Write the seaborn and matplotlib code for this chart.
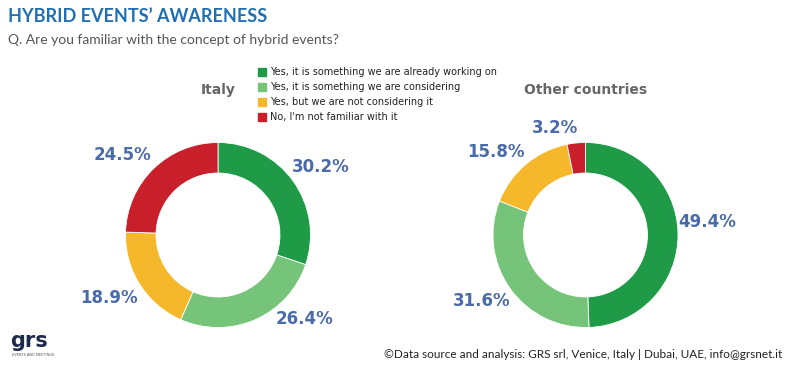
import numpy as np
import matplotlib
matplotlib.use("Agg")
import matplotlib.pyplot as plt
import seaborn as sns

sns.set_theme(style="white")
plt.rcParams['font.family'] = ['DejaVu Sans']

categories = [
    "Yes, it is something we are already working on",
    "Yes, it is something we are considering",
    "Yes, but we are not considering it",
    "No, I'm not familiar with it",
]
italy_values = [30.2, 26.4, 18.9, 24.5]
other_values = [49.4, 31.6, 15.8, 3.2]
panel_titles = ["Italy", "Other countries"]
colors = sns.color_palette(["#1f9a46", "#76c479", "#f5b82a", "#c81f2a"])
# small per-label angle nudges (degrees) and radial distances
italy_nudge = [-2, 22, -2, 6]
italy_dist = [1.33, 1.30, 1.36, 1.35]
other_nudge = [5, -3, 7, 10]
other_dist = [1.32, 1.33, 1.32, 1.20]

W, H = 796, 368
fig = plt.figure(figsize=(W / 100, H / 100), dpi=100)
fig.patch.set_facecolor("white")

R = 92.5
lim = 1.0


def add_donut(cx, cy, values, nudges, dists, title):
    ax = fig.add_axes([(cx - R) / W, (H - cy - R) / H, 2 * R / W, 2 * R / H])
    wedges, _ = ax.pie(values, colors=colors, startangle=90, counterclock=False,
                       radius=1.0, wedgeprops=dict(width=0.33, edgecolor="white", linewidth=0.6))
    ax.set_xlim(-lim, lim)
    ax.set_ylim(-lim, lim)
    ax.set_aspect("equal")
    ax.axis("off")
    for w, v, nd, d in zip(wedges, values, nudges, dists):
        ang = np.deg2rad((w.theta1 + w.theta2) / 2 + nd)
        ax.text(d * np.cos(ang), d * np.sin(ang), f"{v:.1f}%", ha="center", va="center",
                fontsize=12, fontweight="bold", color="#4a6aa8", clip_on=False)
    fig.text(cx / W, 1 - 90 / H, title, ha="center", va="center", fontsize=10,
             fontweight="bold", color="#666666")
    return ax


add_donut(218, 235, italy_values, italy_nudge, italy_dist, panel_titles[0])
add_donut(585.5, 235, other_values, other_nudge, other_dist, panel_titles[1])

# Header
fig.text(8 / W, 1 - 17 / H, "HYBRID EVENTS\u2019 AWARENESS", fontsize=13, fontweight="bold",
         color="#1f6fb2", family="Lato", ha="left", va="center")
fig.text(8 / W, 1 - 40 / H, "Q. Are you familiar with the concept of hybrid events?",
         fontsize=10, color="#555555", family="Lato", ha="left", va="center")

# Legend
for i, (lab, c) in enumerate(zip(categories, colors)):
    y = 72 + i * 15
    fig.patches.append(plt.Rectangle(((258) / W, 1 - (y + 4) / H), 8 / W, 8 / H,
                                     transform=fig.transFigure, color=c, figure=fig))
    fig.text(270 / W, 1 - y / H, lab, fontsize=7, color="#222222", ha="left", va="center")

# Footer
fig.text(782 / W, 1 - 354 / H,
         "\u00a9Data source and analysis: GRS srl, Venice, Italy | Dubai, UAE, info@grsnet.it",
         fontsize=8.5, color="#222222", family="Lato", ha="right", va="center")
fig.text(10 / W, 1 - 341 / H, "grs", fontsize=15, fontweight="bold", color="#1d2a4a",
         ha="left", va="center")
fig.text(12 / W, 1 - 355 / H, "EVENTS AND MEETINGS", fontsize=2.5, color="#555555",
         ha="left", va="center")

fig.savefig("out.png", dpi=100, facecolor="white")
